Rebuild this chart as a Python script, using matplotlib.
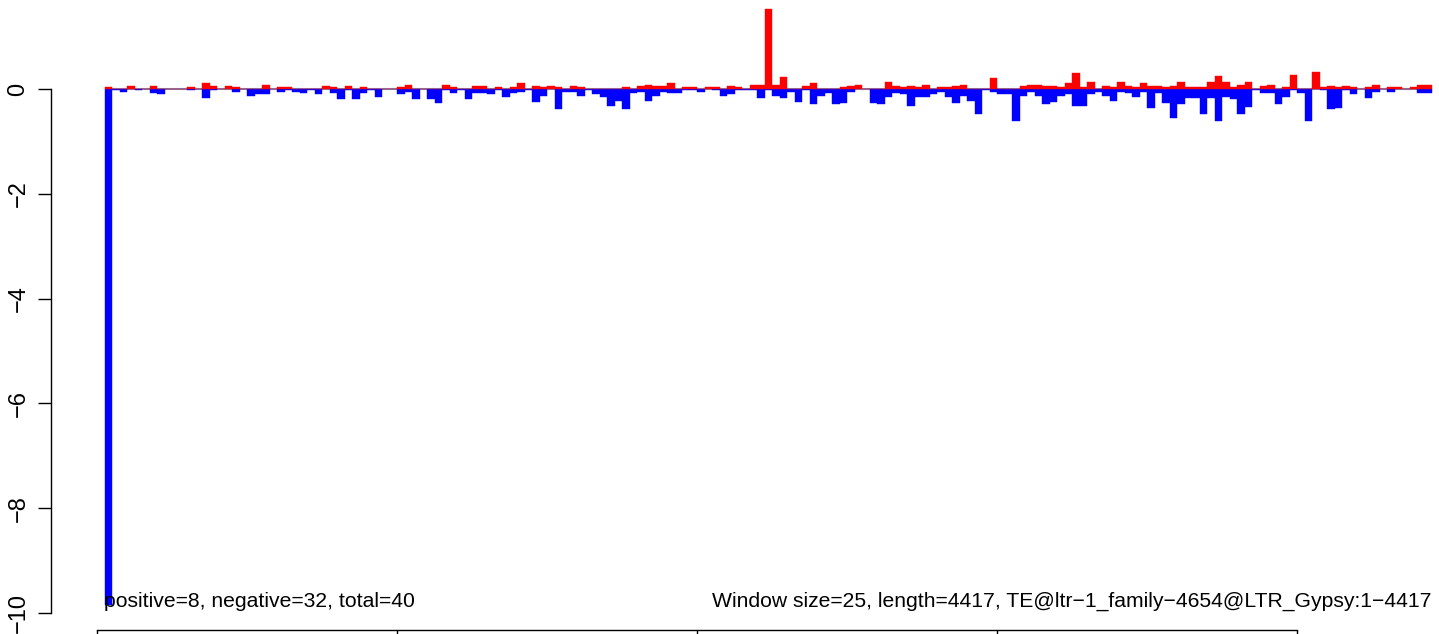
import numpy as np
import matplotlib
matplotlib.use("Agg")
import matplotlib.pyplot as plt

plt.rcParams['font.family'] = ['Liberation Sans', 'DejaVu Sans']

# window scores, one value per 25 bp window
pos = [0.04, 0, 0, 0.06, 0, 0, 0.06, 0, 0, 0,
       0, 0.03, 0, 0.11, 0.06, 0, 0.06, 0.04, 0, 0,
       0, 0.08, 0, 0.04, 0.04, 0, 0, 0, 0, 0.06,
       0.04, 0, 0.06, 0, 0.04, 0, 0, 0, 0, 0.04,
       0.08, 0, 0, 0, 0, 0.08, 0.04, 0, 0, 0.06,
       0.06, 0, 0.03, 0, 0.04, 0.11, 0, 0.06, 0.04, 0.06,
       0.04, 0, 0.06, 0.04, 0, 0, 0, 0, 0, 0.04,
       0, 0.06, 0.08, 0.06, 0.06, 0.11, 0, 0.04, 0.04, 0,
       0.04, 0.04, 0, 0.06, 0.04, 0, 0.08, 0.08, 1.53, 0.08,
       0.23, 0, 0, 0.06, 0.11, 0, 0, 0, 0.04, 0.06,
       0.08, 0, 0, 0, 0.13, 0.06, 0.04, 0.06, 0.04, 0.08,
       0, 0.04, 0.04, 0.06, 0.08, 0, 0, 0, 0.21, 0,
       0, 0, 0.06, 0.08, 0.08, 0.06, 0.06, 0.04, 0.11, 0.31,
       0.04, 0.13, 0, 0.06, 0.04, 0.13, 0.06, 0.04, 0.11, 0.06,
       0.06, 0.04, 0.06, 0.13, 0.04, 0.04, 0.04, 0.13, 0.25, 0.13,
       0.04, 0.08, 0.13, 0, 0.06, 0.08, 0, 0.04, 0.27, 0,
       0, 0.32, 0.04, 0.06, 0.04, 0.06, 0.04, 0, 0.04, 0.08,
       0, 0.04, 0.04, 0, 0.04, 0.08, 0.08]
neg = [-9.85, -0.02, -0.06, 0, -0.02, 0, -0.08, -0.1, 0, 0,
       0, -0.02, 0, -0.17, -0.02, 0, 0, -0.06, 0, -0.13,
       -0.1, -0.1, 0, -0.06, -0.02, -0.06, -0.08, -0.02, -0.1, 0,
       -0.08, -0.19, -0.02, -0.19, -0.08, -0.02, -0.15, 0, 0, -0.1,
       -0.06, -0.19, 0, -0.19, -0.27, -0.02, -0.08, -0.02, -0.19, -0.08,
       -0.08, -0.1, -0.02, -0.15, -0.08, -0.06, -0.02, -0.25, -0.13, 0,
       -0.38, -0.06, -0.06, -0.13, -0.02, -0.1, -0.15, -0.32, -0.23, -0.38,
       -0.08, -0.06, -0.23, -0.13, -0.06, -0.08, -0.08, -0.02, -0.02, -0.06,
       0, -0.02, -0.13, -0.1, -0.02, -0.02, -0.02, -0.17, -0.02, -0.13,
       -0.17, -0.06, -0.25, -0.02, -0.29, -0.13, -0.08, -0.29, -0.27, -0.06,
       0, 0, -0.27, -0.29, -0.15, -0.08, -0.1, -0.32, -0.15, -0.15,
       -0.1, -0.06, -0.15, -0.27, -0.13, -0.23, -0.48, -0.02, -0.06, -0.1,
       -0.1, -0.61, -0.13, -0.06, -0.13, -0.29, -0.25, -0.13, -0.1, -0.32,
       -0.32, -0.1, -0.06, -0.13, -0.23, -0.06, -0.08, -0.15, -0.06, -0.36,
       -0.08, -0.27, -0.55, -0.29, -0.17, -0.17, -0.48, -0.17, -0.61, -0.15,
       -0.19, -0.48, -0.34, -0.02, -0.08, -0.08, -0.29, -0.15, -0.02, -0.08,
       -0.61, 0, -0.02, -0.38, -0.36, -0.02, -0.1, 0, -0.17, -0.06,
       0, -0.06, 0, 0, 0, -0.08, -0.08]

WINDOW = 25
LENGTH = 4417
y_ticks = [0, -2, -4, -6, -8, -10]
x_ticks = [0, 1000, 2000, 3000, 4000]

n_pos = 8
n_neg = 32
left_note = "positive=%d, negative=%d, total=%d" % (n_pos, n_neg, n_pos + n_neg)
right_note = "Window size=%d, length=%d, TE@ltr\u22121_family\u22124654@LTR_Gypsy:1\u2212%d" % (WINDOW, LENGTH, LENGTH)


def main():
    fig = plt.figure(figsize=(14.39, 6.34), dpi=100)
    ax = fig.add_axes([0, 0, 1, 1])

    # pixel layout of the original R device
    bp_px = 0.3
    unit_px = 52.4
    ax.set_xlim(-97 / bp_px, (1439 - 97) / bp_px)
    ax.set_ylim(-(634 - 89) / unit_px, 89 / unit_px)

    x = WINDOW * np.arange(len(pos)) + 1.5 * WINDOW

    ax.hlines(0, x[0] - WINDOW / 2, x[-1] + WINDOW / 2, color='#a0a0a0', lw=1.5, zorder=1)
    ax.bar(x, neg, width=WINDOW, color='#0000ff', edgecolor='#0000ff', lw=0.3, zorder=2)
    ax.bar(x, pos, width=WINDOW, color='#ff0000', edgecolor='#ff0000', lw=0.3, zorder=3)

    for s in ['top', 'right']:
        ax.spines[s].set_visible(False)
    ax.spines['left'].set_position(('data', (51 - 97) / bp_px))
    ax.spines['left'].set_bounds(-10, 0)
    ax.spines['bottom'].set_position(('data', -(630 - 89) / unit_px))
    ax.spines['bottom'].set_bounds(0, 4000)
    for s in ['left', 'bottom']:
        ax.spines[s].set_linewidth(1.0)

    ax.set_yticks(y_ticks)
    ax.set_yticklabels([str(v).replace('-', '\u2212') for v in y_ticks],
                       rotation=90, va='center', fontsize=17)
    ax.set_xticks(x_ticks)
    ax.tick_params(axis='y', direction='out', length=9.4, width=1.0, pad=6)
    ax.tick_params(axis='x', direction='out', length=9.4, width=1.0, labelbottom=False)
    ax.patch.set_visible(False)

    ax.text((104 - 97) / bp_px, -(607 - 89) / unit_px, left_note,
            ha='left', va='baseline', fontsize=15.2)
    ax.text((1431 - 97) / bp_px, -(607 - 89) / unit_px, right_note,
            ha='right', va='baseline', fontsize=15.2)

    fig.savefig("out.png", dpi=100)


if __name__ == "__main__":
    main()
